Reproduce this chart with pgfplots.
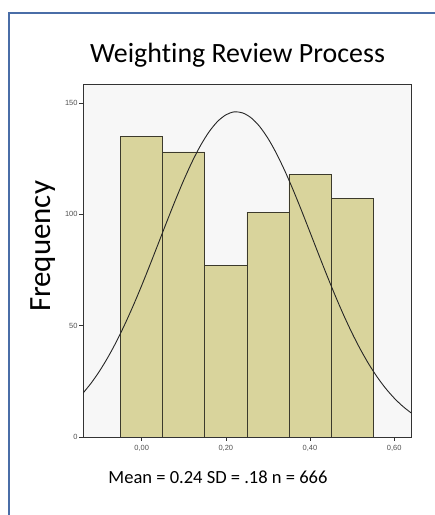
\documentclass[border=0pt]{standalone}
\usepackage{fontspec}
\setmainfont{Carlito}[Ligatures=NoCommon]
\newfontfamily\arialf{Liberation Sans}
\usepackage{pgfplots}
\pgfplotsset{compat=1.18}
\definecolor{barfill}{HTML}{D9D49C}
\definecolor{baredge}{HTML}{3C3A2C}
\definecolor{plotbg}{HTML}{F7F7F7}
\definecolor{frameblue}{HTML}{4A6DA7}
\definecolor{ticktext}{HTML}{505050}
\begin{document}
\begin{tikzpicture}[x=1bp,y=1bp]
\useasboundingbox (0,0) rectangle (435,515);
\fill[white] (0,0) rectangle (435,515);
\draw[frameblue, line width=1.6bp] (9,-2) -- (9,502) -- (437,502);
\begin{axis}[
  at={(83bp,78bp)}, anchor=south west,
  width=328bp, height=353bp, scale only axis,
  xmin=-0.1394, xmax=0.640, ymin=0, ymax=158.5,
  axis background/.style={fill=plotbg},
  axis line style={draw=black!80, line width=0.7bp},
  xtick={0,0.2,0.4,0.6},
  xticklabels={{0,00},{0,20},{0,40},{0,60}},
  ytick={0,50,100,150},
  yticklabels={0,50,100,150},
  tick align=outside,
  xtick pos=bottom, ytick pos=left,
  major tick length=4bp,
  tick style={draw=black!80, line width=0.6bp},
  ticklabel style={font=\arialf\fontsize{7.5}{8}\selectfont, text=ticktext},
  xticklabel style={yshift=-0.5bp},
  yticklabel style={xshift=2bp},
  clip=true,
]
\addplot[ybar, bar width=0.1, fill=barfill, draw=baredge, line width=0.7bp]
  coordinates {(0,135) (0.1,128) (0.2,77) (0.3,101) (0.4,118) (0.5,107)};
\addplot[smooth, draw=black!85, line width=0.9bp] coordinates {
(-0.14,19.55) (-0.12,24.21) (-0.10,29.64) (-0.08,35.86) (-0.06,42.84)
(-0.04,50.59) (-0.02,59.00) (0.00,67.99) (0.02,77.42) (0.04,87.09)
(0.06,96.80) (0.08,106.29) (0.10,115.33) (0.12,123.62) (0.14,130.92)
(0.16,136.98) (0.18,141.61) (0.20,144.63) (0.22,145.99) (0.24,145.50)
(0.26,143.33) (0.28,139.49) (0.30,134.12) (0.32,127.40) (0.34,119.57)
(0.36,110.89) (0.38,101.59) (0.40,91.95) (0.42,82.24) (0.44,72.66)
(0.46,63.44) (0.48,54.71) (0.50,46.62) (0.52,39.26) (0.54,32.65)
(0.56,26.83) (0.58,21.78) (0.60,17.48) (0.62,13.85) (0.64,10.85)};
\end{axis}
\node[anchor=base, font=\fontsize{28}{30}\selectfont, inner sep=0pt] at (237.5,452) {Weighting Review Process};
\node[anchor=base, rotate=90, font=\fontsize{31}{33}\selectfont, inner sep=0pt] at (50,268.5) {Frequency};
\node[anchor=base, font=\fontsize{18.6}{20}\selectfont, inner sep=0pt] at (218,31.7) {Mean = 0.24 SD = .18 n = 666};
\end{tikzpicture}
\end{document}
